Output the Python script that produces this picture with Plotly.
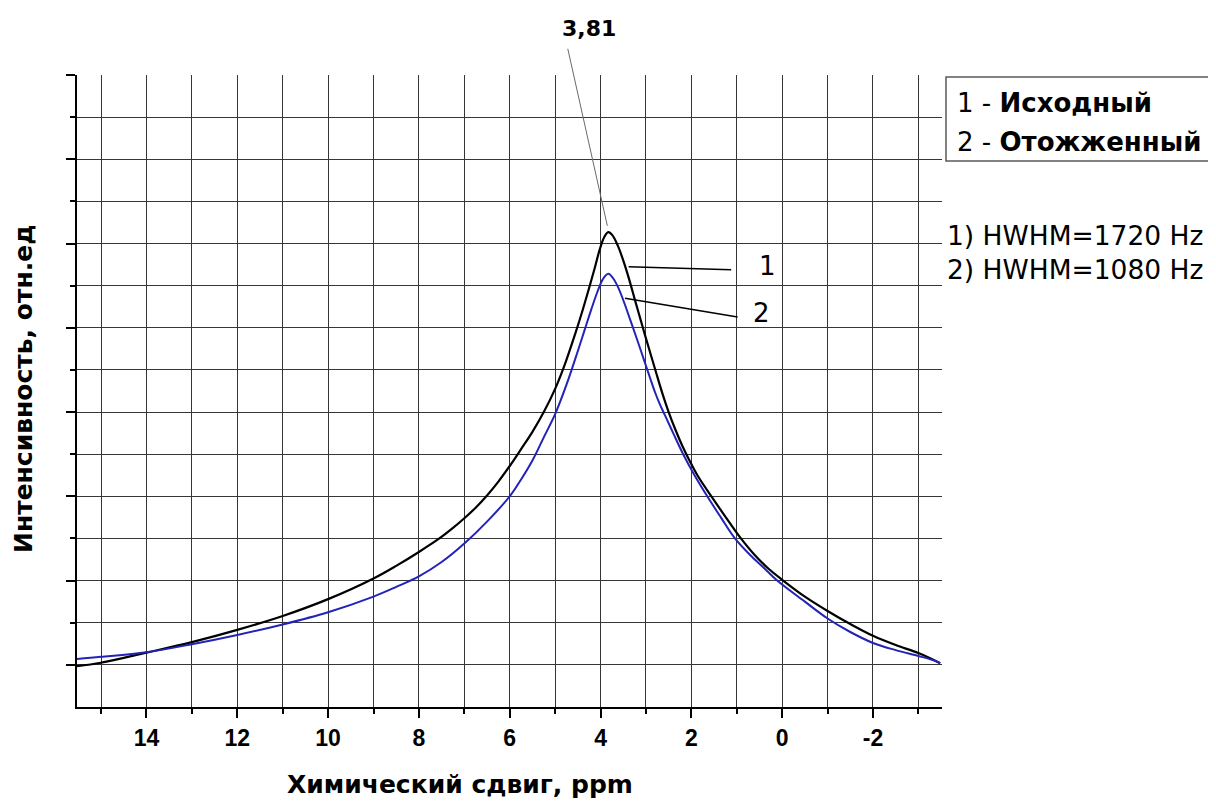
import plotly.graph_objects as go

# --- data ---
shift_1 = [15.53, 15, 14, 13, 12, 11, 10, 9, 8.5, 8, 7.55, 7.25, 7.0, 6.75, 6.5, 6.25, 6.0,
           5.75, 5.5, 5.25, 5.0, 4.78, 4.56, 4.4, 4.25, 4.12, 4.02, 3.92, 3.83, 3.74, 3.62,
           3.5, 3.37, 3.24, 3.12, 3.0, 2.89, 2.78, 2.64, 2.5, 2.35, 2.2, 2.05, 1.85, 1.54,
           1.24, 0.93, 0.6, 0.3, 0.0, -0.5, -1, -1.5, -2, -2.5, -3, -3.48]
intensity_1 = [0.97, 1.05, 1.29, 1.54, 1.83, 2.16, 2.56, 3.05, 3.35, 3.68, 4.0, 4.25, 4.48,
               4.73, 5.02, 5.35, 5.72, 6.12, 6.53, 7.0, 7.55, 8.15, 8.85, 9.4, 9.95, 10.45,
               10.85, 11.15, 11.27, 11.2, 10.95, 10.6, 10.15, 9.65, 9.2, 8.75, 8.35, 7.95,
               7.45, 7.0, 6.58, 6.2, 5.87, 5.47, 4.97, 4.5, 4.03, 3.6, 3.28, 3.02, 2.62,
               2.28, 1.97, 1.69, 1.47, 1.28, 1.04]

shift_2 = [15.53, 15, 14, 13, 12, 11, 10, 9, 8.5, 8, 7.5, 7.0, 6.5, 6.0, 5.75, 5.5, 5.25,
           5.0, 4.75, 4.5, 4.35, 4.2, 4.07, 3.95, 3.83, 3.72, 3.6, 3.48, 3.35, 3.22, 3.1,
           3.0, 2.9, 2.8, 2.7, 2.58, 2.4, 2.18, 1.93, 1.65, 1.35, 1.04, 0.7, 0.4, 0.11,
           -0.5, -1, -1.5, -2, -2.5, -3, -3.3, -3.48]
intensity_2 = [1.14, 1.19, 1.30, 1.49, 1.71, 1.96, 2.25, 2.62, 2.85, 3.1, 3.44, 3.88, 4.4,
               5.0, 5.4, 5.85, 6.4, 6.95, 7.65, 8.45, 8.95, 9.45, 9.85, 10.15, 10.28,
               10.17, 9.93, 9.6, 9.2, 8.8, 8.42, 8.1, 7.78, 7.47, 7.2, 6.92, 6.5, 6.0, 5.5,
               5.0, 4.5, 4.0, 3.6, 3.3, 3.0, 2.5, 2.1, 1.78, 1.52, 1.35, 1.21, 1.12, 1.04]

x_tick_vals = [14, 12, 10, 8, 6, 4, 2, 0, -2]
x_tick_text = ["14", "12", "10", "8", "6", "4", "2", "0", "-2"]
x_minor_vals = [15, 14, 13, 12, 11, 10, 9, 8, 7, 6, 5, 4, 3, 2, 1, 0, -1, -2, -3]
y_tick_vals = [1, 3, 5, 7, 9, 11, 13, 15]
y_minor_vals = [1, 2, 3, 4, 5, 6, 7, 8, 9, 10, 11, 12, 13, 14]

peak_pos = 3.81
peak_label = "3,81"
legend_lines = ["1 - <b>Исходный</b>", "2 - <b>Отожженный</b>"]
hwhm_lines = ["1) HWHM=1720 Hz", "2) HWHM=1080 Hz"]
x_title = "Химический сдвиг, ppm"
y_title = "Интенсивность, отн.ед"

FONT = "Liberation Sans, Arial, sans-serif"
WIDE = "DejaVu Sans, Verdana, sans-serif"
GRID = "#363636"

fig = go.Figure()
fig.add_trace(go.Scatter(x=shift_1, y=intensity_1, mode="lines",
                         line=dict(color="black", width=2.2, shape="spline", smoothing=1.0),
                         showlegend=False))
fig.add_trace(go.Scatter(x=shift_2, y=intensity_2, mode="lines",
                         line=dict(color="#2323b8", width=2, shape="spline", smoothing=1.0),
                         showlegend=False))

fig.update_xaxes(range=[15.53, -3.52], showline=True, linecolor="black", linewidth=2,
                 ticks="outside", ticklen=9, tickwidth=2, tickcolor="black",
                 tickmode="array", tickvals=x_tick_vals, ticktext=x_tick_text,
                 tickfont=dict(family=FONT, size=23, color="black", weight="bold"),
                 showgrid=False, zeroline=False,
                 minor=dict(tickmode="array", tickvals=x_minor_vals, ticks="outside",
                            ticklen=5, tickwidth=1.5, tickcolor="black",
                            showgrid=True, gridcolor=GRID, gridwidth=1.4))
fig.update_yaxes(range=[0, 15], showline=True, linecolor="black", linewidth=2,
                 ticks="outside", ticklen=9, tickwidth=2, tickcolor="black",
                 tickmode="array", tickvals=y_tick_vals, showticklabels=False,
                 showgrid=False, zeroline=False,
                 minor=dict(tickmode="array", tickvals=y_minor_vals, ticks="outside",
                            ticklen=5, tickwidth=1.5, tickcolor="black",
                            showgrid=True, gridcolor=GRID, gridwidth=1.4))

ann = []
# axis titles
ann.append(dict(text=f"<b>{x_title}</b>", xref="paper", yref="paper", x=0.443, y=-0.123,
                xanchor="center", yanchor="middle", showarrow=False,
                font=dict(family=WIDE, size=25, color="black")))
ann.append(dict(text=f"<b>{y_title}</b>", xref="paper", yref="paper", x=-0.0625, y=0.503,
                xanchor="center", yanchor="middle", showarrow=False, textangle=-90,
                font=dict(family=WIDE, size=25, color="black")))
# peak label and its leader
ann.append(dict(text=f"<b>{peak_label}</b>", xref="paper", yref="paper", x=0.592, y=1.073,
                xanchor="center", yanchor="middle", showarrow=False,
                font=dict(family=WIDE, size=22, color="black")))
ann.append(dict(text=" ", x=peak_pos + 0.04, y=11.42, xref="x", yref="y", showarrow=True,
                arrowhead=0, arrowwidth=1, arrowcolor="#6a6a6a", ax=-40, ay=-179,
                standoff=0, font=dict(size=1)))
# curve labels with leaders
ann.append(dict(text=" ", x=3.38, y=10.45, xref="x", yref="y", showarrow=True,
                arrowhead=0, arrowwidth=1.5, arrowcolor="black", ax=104, ay=3,
                standoff=0, font=dict(size=1)))
ann.append(dict(text=" ", x=3.46, y=9.7, xref="x", yref="y", showarrow=True,
                arrowhead=0, arrowwidth=1.5, arrowcolor="black", ax=114, ay=19,
                standoff=0, font=dict(size=1)))
ann.append(dict(text="1", xref="paper", yref="paper", x=0.7977, y=0.6978,
                xanchor="center", yanchor="middle", showarrow=False,
                font=dict(family=WIDE, size=26, color="black")))
ann.append(dict(text="2", xref="paper", yref="paper", x=0.7919, y=0.6234,
                xanchor="center", yanchor="middle", showarrow=False,
                font=dict(family=WIDE, size=26, color="black")))
# legend box texts
ann.append(dict(text=legend_lines[0], xref="paper", yref="paper", x=1.0150, y=0.9557,
                xanchor="left", yanchor="middle", showarrow=False,
                font=dict(family=WIDE, size=26, color="black")))
ann.append(dict(text=legend_lines[1], xref="paper", yref="paper", x=1.0150, y=0.8940,
                xanchor="left", yanchor="middle", showarrow=False,
                font=dict(family=WIDE, size=26, color="black")))
# HWHM notes
ann.append(dict(text=hwhm_lines[0], xref="paper", yref="paper", x=1.003, y=0.7453,
                xanchor="left", yanchor="middle", showarrow=False,
                font=dict(family=WIDE, size=26.5, color="black")))
ann.append(dict(text=hwhm_lines[1], xref="paper", yref="paper", x=1.003, y=0.6930,
                xanchor="left", yanchor="middle", showarrow=False,
                font=dict(family=WIDE, size=26.5, color="black")))

# the page body adds an 8px margin, so the figure is sized to fill the rest of the window
fig.update_layout(
    width=1208, height=797,
    margin=dict(l=69, r=274, t=67, b=98),
    paper_bgcolor="white", plot_bgcolor="white",
    annotations=ann,
    shapes=[dict(type="rect", xref="paper", yref="paper", x0=1.0046, x1=1.33,
                 y0=0.8640, y1=0.9970, line=dict(color="#5a5a5a", width=1.5))],
)

fig.write_html("out.html")
